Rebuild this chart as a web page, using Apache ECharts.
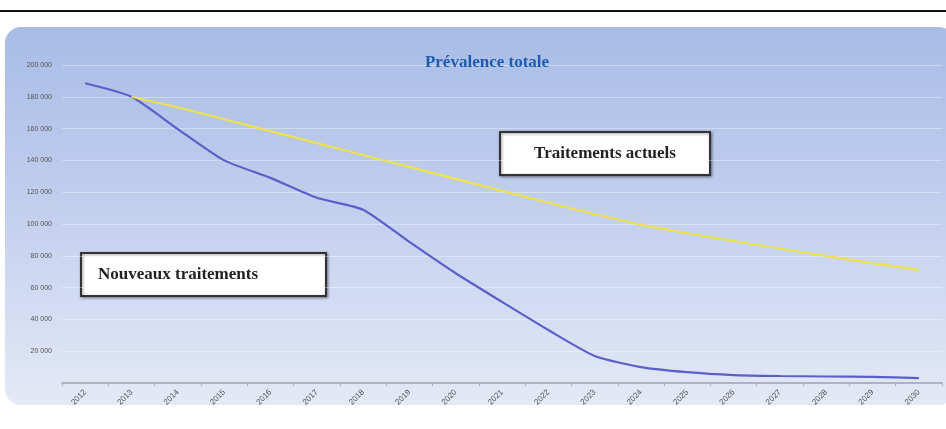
<!DOCTYPE html>
<html><head><meta charset="utf-8">
<script src="https://cdn.jsdelivr.net/npm/echarts@6/dist/echarts.min.js"></script>
<style>html,body{margin:0;padding:0;background:#fff}#c{width:946px;height:429px}</style>
</head><body><div id="c"></div>
<script>
var years = ['2012','2013','2014','2015','2016','2017','2018','2019','2020','2021','2022','2023','2024','2025','2026','2027','2028','2029','2030'];
var nouveaux = [188500,180000,159700,140000,129000,116500,109000,88700,69000,51000,33300,17000,10000,6800,5000,4400,4100,3800,3100];
var actuels = [null,180000,173400,165900,158400,150900,143400,135900,128400,120900,113500,106300,99600,94200,89300,84600,79900,75400,71100];
var yTicks = {min:0, max:200000, interval:20000};
var chart = echarts.init(document.getElementById('c'));
function fmt(v){ if(v===0) return ''; var s=String(v); return s.slice(0,s.length-3)+' '+s.slice(-3); }
chart.setOption({
  animation:false,
  graphic:[
    {type:'rect', z:-10, shape:{x:0,y:10,width:946,height:2}, style:{fill:'#111'}},
    {type:'rect', z:-10, shape:{x:5,y:27,width:950,height:378,r:16},
     style:{fill:new echarts.graphic.LinearGradient(0,0,0,1,[{offset:0,color:'#a8bce6'},{offset:0.5,color:'#c3d0ee'},{offset:1,color:'#e4e9f6'}])}},
    {type:'group', left:499, top:131, z:100, children:[
      {type:'rect', shape:{x:0,y:0,width:210,height:43}, style:{fill:'#fff',stroke:'#333',lineWidth:2, shadowBlur:3, shadowColor:'rgba(0,0,0,0.4)', shadowOffsetX:1, shadowOffsetY:1}},
      {type:'text', x:105, y:22, style:{text:'Traitements actuels', fill:'#222', font:'bold 17px "Liberation Serif", "DejaVu Serif", serif', align:'center', verticalAlign:'middle'}}
    ]},
    {type:'group', left:80, top:252, z:100, children:[
      {type:'rect', shape:{x:0,y:0,width:245,height:43}, style:{fill:'#fff',stroke:'#333',lineWidth:2, shadowBlur:3, shadowColor:'rgba(0,0,0,0.4)', shadowOffsetX:1, shadowOffsetY:1}},
      {type:'text', x:17, y:22, style:{text:'Nouveaux traitements', fill:'#222', font:'bold 17px "Liberation Serif", "DejaVu Serif", serif', align:'left', verticalAlign:'middle'}}
    ]}
  ],
  title:{text:'Prévalence totale', left:482, textAlign:'center', top:49,
    textStyle:{color:'#1f5cb0', fontFamily:'"Liberation Serif", serif', fontWeight:'bold', fontSize:17}},
  grid:{left:62, right:4, top:65, bottom:46},
  xAxis:{type:'category', data:years, boundaryGap:true,
    axisLine:{lineStyle:{color:'#9aa0aa', width:1.5}},
    axisTick:{show:true, length:3, lineStyle:{color:'#b0b5bd'}},
    axisLabel:{rotate:45, color:'#555', fontSize:8, fontFamily:'"Liberation Sans", sans-serif', margin:8}},
  yAxis:{type:'value', min:yTicks.min, max:yTicks.max, interval:yTicks.interval,
    axisLine:{show:false}, axisTick:{show:false},
    splitLine:{show:true, lineStyle:{color:'rgba(255,255,255,0.35)', width:1}},
    axisLabel:{formatter:fmt, color:'#555', fontSize:7, fontFamily:'"Liberation Sans", sans-serif', margin:10}},
  series:[
    {name:'Nouveaux traitements', type:'line', data:nouveaux, symbol:'none', smooth:0.2,
     lineStyle:{color:'#5b5fc9', width:2.2}},
    {name:'Traitements actuels', type:'line', data:actuels, symbol:'none', smooth:0.2,
     lineStyle:{color:'#ebe24c', width:2.2}}
  ]
});
</script></body></html>
